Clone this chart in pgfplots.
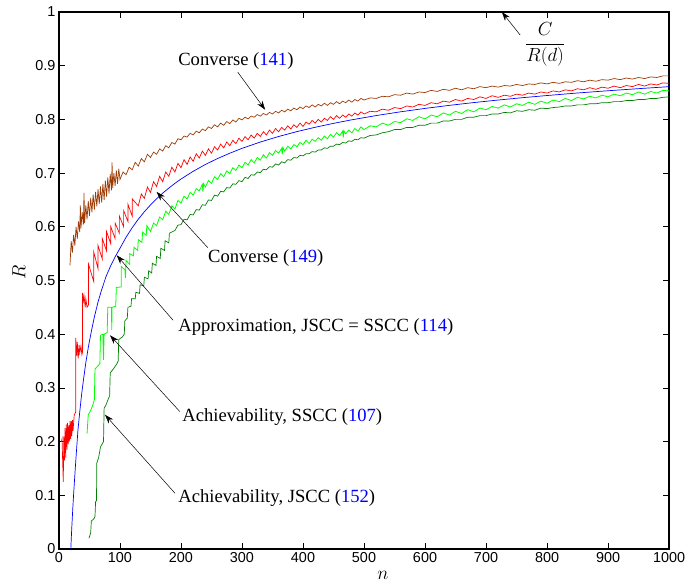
\RequirePackage{fix-cm}
\documentclass[border=0pt]{standalone}
\usepackage{fontspec}
\setmainfont{Liberation Serif}
\newfontfamily\sansf{Liberation Sans}
\usepackage{xcolor}
\usepackage{amsmath}
\usepackage{pgfplots}
\pgfplotsset{compat=1.18}
\usetikzlibrary{arrows.meta}
\definecolor{brownc}{RGB}{158,58,4}
\definecolor{dgreen}{RGB}{0,128,0}
\definecolor{lgreen}{RGB}{0,255,0}
\begin{document}
\begin{tikzpicture}
\begin{axis}[
 width=610pt, height=537pt, scale only axis,
 xmin=0, xmax=1000, ymin=0, ymax=1,
 xtick={0,100,200,300,400,500,600,700,800,900,1000},
 ytick={0,0.1,0.2,0.3,0.4,0.5,0.6,0.7,0.8,0.9,1},
 xtick pos=both, ytick pos=both,
 xticklabel pos=lower, yticklabel pos=left,
 tick align=inside, major tick length=6pt,
 axis line style={line width=1.3pt},
 tick style={line width=0.6pt, black},
 tick label style={font=\sansf\fontsize{14.4}{16}\selectfont},
 /pgf/number format/assume math mode=true,
 /pgf/number format/1000 sep={},
 xlabel={$n$}, ylabel={$R$},
 label style={font=\fontsize{19}{21}\selectfont},
 xlabel style={at={(axis description cs:0.531,-0.05)}, anchor=center},
 ylabel style={at={(axis description cs:-0.0656,0.516)}, anchor=center},
 clip mode=individual,
]
% C/R(d) line
\addplot[black, line width=0.6pt] coordinates {(0,1) (1000,1)};
% Converse (141) brown
\addplot[brownc, line width=0.7pt] coordinates {
(18,0.528)(20,0.573)(22,0.552)(24,0.585)(26,0.565)(28,0.6)(30,0.577)(32,0.61)(34,0.59)(35,0.64)(36,0.597)(38,0.627)(40,0.604)(41,0.663)(42,0.607)(44,0.64)(46,0.614)(48,0.648)(50,0.62)(52,0.654)(54,0.627)(56,0.66)(58,0.632)(60,0.665)(62,0.638)(64,0.67)(66,0.642)(68,0.675)(70,0.645)(72,0.68)(74,0.65)(76,0.686)(78,0.656)(80,0.692)(82,0.662)(84,0.698)(86,0.668)(87,0.72)(88,0.672)(90,0.70)(92,0.676)(94,0.705)(96,0.68)(98,0.708)
(100,0.688)(105,0.702)(110,0.697)(115,0.711)(120,0.706)(125,0.720)(130,0.713)(135,0.727)(140,0.721)(145,0.735)(150,0.729)(155,0.739)(160,0.735)(165,0.745)(170,0.741)(175,0.751)(180,0.747)(185,0.757)(190,0.754)(195,0.764)(200,0.762)(205,0.769)(210,0.767)(215,0.774)(220,0.771)(225,0.778)(230,0.775)(235,0.782)(240,0.779)(245,0.786)(250,0.783)(255,0.790)(260,0.786)(265,0.793)(270,0.789)(275,0.796)(280,0.792)(285,0.799)(290,0.795)(295,0.802)(300,0.799)(305,0.804)(310,0.801)(315,0.806)(320,0.804)(325,0.809)(330,0.806)(335,0.811)(340,0.808)(345,0.813)(350,0.810)(355,0.815)(360,0.812)(365,0.817)(370,0.814)(375,0.819)(380,0.816)(385,0.821)(390,0.818)(395,0.823)(400,0.820)(405,0.825)(410,0.822)(415,0.827)(420,0.823)(425,0.828)(430,0.825)(435,0.830)(440,0.826)(445,0.831)(450,0.828)(455,0.833)(460,0.829)(465,0.834)(470,0.831)(475,0.836)(480,0.832)(485,0.837)(490,0.834)(495,0.839)
(500,0.836)(510,0.840)(520,0.839)(530,0.843)(540,0.842)(550,0.846)(560,0.845)(570,0.849)(580,0.847)(590,0.851)(600,0.850)(610,0.854)(620,0.852)(630,0.856)(640,0.854)(650,0.858)(660,0.855)(670,0.859)(680,0.857)(690,0.861)(700,0.859)(710,0.862)(720,0.860)(730,0.863)(740,0.862)(750,0.865)(760,0.863)(770,0.866)(780,0.865)(790,0.868)(800,0.866)(810,0.869)(820,0.867)(830,0.870)(840,0.869)(850,0.872)(860,0.870)(870,0.873)(880,0.871)(890,0.874)(900,0.873)(910,0.876)(920,0.874)(930,0.877)(940,0.875)(950,0.878)(960,0.876)(970,0.879)(980,0.878)(990,0.881)(1000,0.881)
};
% Converse (149) red
\addplot[red, line width=0.7pt] coordinates {
(4,0.2)(5,0.205)(7,0.125)(8,0.21)(9,0.165)(10,0.225)(11,0.17)(12,0.232)(13,0.185)(14,0.235)(15,0.195)(16,0.23)(17,0.2)(18,0.238)(19,0.205)(20,0.238)(21,0.21)(22,0.24)(23,0.22)(25,0.25)(27.5,0.255)(27.5,0.393)(29,0.36)(30,0.385)(31.5,0.355)(33,0.38)(34,0.365)(36,0.378)(37.5,0.362)(38.5,0.366)(38.5,0.477)(40,0.462)(41,0.472)(43,0.45)(44,0.466)(46,0.45)(48.5,0.455)(48.5,0.53)
(57,0.498)(57,0.553)(64,0.522)(64,0.565)(71,0.540)(71,0.578)(78,0.555)(78,0.591)(85,0.568)(85,0.600)(92,0.578)(92,0.607)(99,0.588)(99,0.620)(106,0.600)(106,0.630)(113,0.610)(113,0.642)(120,0.620)(120,0.652)
(130,0.639)(135,0.661)(140,0.653)(145,0.674)(150,0.664)(155,0.684)(160,0.675)(165,0.694)(170,0.684)(175,0.702)(180,0.694)(185,0.711)(190,0.702)(195,0.718)(200,0.710)(205,0.725)(210,0.716)(215,0.730)(220,0.722)(225,0.736)(230,0.728)(235,0.741)(240,0.733)(245,0.745)(250,0.737)(255,0.749)(260,0.743)(265,0.754)(270,0.747)(275,0.758)(280,0.751)(285,0.761)(290,0.755)(295,0.765)(300,0.759)(305,0.768)(310,0.762)(315,0.771)(320,0.765)(325,0.774)(330,0.768)(335,0.777)(340,0.771)(345,0.780)(350,0.774)(355,0.783)(360,0.777)(365,0.785)(370,0.780)(375,0.788)(380,0.782)(385,0.790)(390,0.785)(395,0.793)(400,0.787)(405,0.795)(410,0.791)(415,0.798)(420,0.793)(425,0.800)(430,0.795)(435,0.802)(440,0.798)(445,0.805)(450,0.800)(455,0.807)(460,0.802)(465,0.808)(470,0.804)(475,0.810)(480,0.806)(485,0.812)(490,0.808)(495,0.814)
(500,0.810)(510,0.815)(520,0.814)(530,0.819)(540,0.817)(550,0.822)(560,0.820)(570,0.825)(580,0.823)(590,0.828)(600,0.826)(610,0.831)(620,0.829)(630,0.834)(640,0.832)(650,0.837)(660,0.834)(670,0.839)(680,0.837)(690,0.842)(700,0.839)(710,0.844)(720,0.841)(730,0.845)(740,0.843)(750,0.847)(760,0.845)(770,0.849)(780,0.847)(790,0.851)(800,0.849)(810,0.853)(820,0.851)(830,0.855)(840,0.853)(850,0.857)(860,0.855)(870,0.859)(880,0.856)(890,0.860)(900,0.858)(910,0.862)(920,0.859)(930,0.863)(940,0.861)(950,0.865)(960,0.862)(970,0.866)(980,0.864)(990,0.868)(1000,0.867)
};
% Approximation (114) blue
\addplot[blue, line width=0.7pt] coordinates {
(19.4,0)(20,0.016)(21,0.040)(22,0.062)(23,0.083)(24,0.102)(25,0.120)(27,0.155)(29,0.188)(31,0.22)(34,0.255)(37,0.287)(40,0.314)(44,0.347)(48,0.375)(53,0.405)(58,0.432)(64,0.46)(70,0.483)(77,0.507)(85,0.528)(92,0.544)(100,0.560)(110,0.5805)(120,0.5983)(130,0.6141)(140,0.6281)(150,0.6407)(160,0.6521)(170,0.6625)(180,0.6720)(190,0.6808)(200,0.6889)(220,0.7033)(240,0.7160)(260,0.7271)(280,0.7370)(300,0.7460)(330,0.7578)(360,0.7681)(390,0.7772)(420,0.7853)(450,0.7926)(480,0.7992)(520,0.8071)(560,0.8141)(600,0.8204)(640,0.8261)(680,0.8313)(720,0.8360)(760,0.8404)(800,0.8444)(850,0.8491)(900,0.8533)(950,0.8572)(1000,0.8609)
};
% Achievability SSCC (107) light green
\addplot[lgreen, line width=0.8pt] coordinates {
(46,0.215)(48,0.25)(52,0.258)(56,0.27)(58,0.278)(59,0.335)(63,0.34)(67,0.345)(68,0.398)(72,0.40)(73,0.352)(74,0.40)(79,0.403)(80,0.45)(86,0.45)(86.5,0.408)(87,0.45)(93,0.452)(94,0.487)(102,0.488)(102,0.526)(108,0.52)(109,0.505)(110,0.537)(116,0.53)(116,0.55)(122,0.546)(123,0.562)(129,0.556)(130,0.576)(136,0.571)(137,0.59)(143,0.584)(144,0.602)
(150,0.591)(155,0.607)(160,0.602)(165,0.618)(170,0.613)(175,0.629)(180,0.623)(185,0.639)(190,0.633)(195,0.649)(200,0.644)(205,0.657)(210,0.652)(215,0.664)(220,0.659)(225,0.671)(230,0.667)(235,0.679)(236,0.665)(237,0.680)(240,0.674)(245,0.686)(250,0.681)(255,0.693)(260,0.688)(265,0.699)(270,0.693)(275,0.704)(280,0.699)(285,0.710)(290,0.705)(295,0.715)(300,0.710)(305,0.720)(310,0.715)(315,0.725)(320,0.719)(325,0.729)(330,0.724)(335,0.734)(340,0.728)(345,0.738)(350,0.733)(355,0.742)(360,0.737)(365,0.746)(366,0.735)(367,0.748)(370,0.741)(375,0.750)(380,0.745)(385,0.753)(390,0.749)(395,0.757)(400,0.753)(405,0.761)(410,0.755)(415,0.763)(420,0.759)(425,0.766)(430,0.761)(435,0.769)(440,0.764)(445,0.772)(450,0.767)(455,0.775)(460,0.770)(465,0.778)(466,0.766)(467,0.779)(470,0.773)(475,0.780)(480,0.775)(485,0.783)(490,0.778)(495,0.786)
(500,0.781)(510,0.788)(520,0.786)(530,0.793)(540,0.789)(550,0.796)(560,0.794)(570,0.801)(580,0.798)(590,0.805)(600,0.801)(610,0.808)(620,0.805)(630,0.812)(640,0.808)(650,0.815)(660,0.811)(670,0.818)(680,0.814)(690,0.821)(700,0.818)(710,0.824)(720,0.821)(730,0.827)(740,0.823)(750,0.829)(760,0.826)(770,0.832)(780,0.828)(790,0.834)(800,0.830)(810,0.836)(820,0.833)(830,0.839)(840,0.835)(850,0.841)(860,0.838)(870,0.843)(880,0.840)(890,0.845)(900,0.842)(910,0.847)(920,0.844)(930,0.849)(940,0.846)(950,0.851)(960,0.847)(970,0.852)(980,0.849)(990,0.854)(1000,0.853)
};
% Achievability JSCC (152) dark green
\addplot[dgreen, line width=0.7pt] coordinates {
(49,0.02)(52,0.03)(53,0.052)(57,0.056)(59,0.06)(60,0.088)(61.5,0.09)(62,0.16)(65,0.17)(68,0.19)(72,0.198)(73,0.20)(74,0.262)(77,0.268)(81,0.28)(83,0.285)(84,0.328)(89,0.335)(95,0.345)(97,0.35)(98,0.39)(104,0.395)(107,0.40)(108,0.425)(112,0.43)(113,0.45)(118,0.452)(119,0.466)(125,0.466)(126,0.478)(132,0.476)(133,0.492)(139,0.49)(140,0.506)(146,0.503)(147,0.518)(152,0.514)(153,0.532)(159,0.528)(160,0.545)(166,0.541)(167,0.56)(173,0.556)(174,0.574)(180,0.57)(181,0.588)
(190,0.593)(195,0.603)(200,0.604)(205,0.614)(210,0.613)(215,0.623)(220,0.622)(225,0.632)(230,0.631)(235,0.641)(240,0.640)(245,0.650)(250,0.649)(255,0.659)(260,0.657)(265,0.666)(270,0.665)(275,0.673)(280,0.672)(285,0.680)(290,0.679)(295,0.686)(300,0.684)(305,0.692)(310,0.690)(315,0.697)(320,0.696)(325,0.702)(330,0.701)(335,0.707)(340,0.706)(345,0.712)(350,0.711)(355,0.717)(360,0.715)(365,0.721)(370,0.719)(375,0.725)(380,0.724)(385,0.729)(390,0.728)(395,0.733)(400,0.732)(405,0.736)(410,0.736)(415,0.740)(420,0.739)(425,0.743)(430,0.743)(435,0.747)(440,0.746)(445,0.750)(450,0.750)(455,0.754)(460,0.753)(465,0.757)(470,0.756)(475,0.760)(480,0.759)(485,0.763)(490,0.762)(495,0.766)
(500,0.765)(510,0.770)(520,0.771)(530,0.775)(540,0.777)(550,0.781)(560,0.781)(570,0.785)(580,0.785)(590,0.789)(600,0.789)(610,0.793)(620,0.793)(630,0.797)(640,0.797)(650,0.800)(660,0.800)(670,0.804)(680,0.804)(690,0.807)(700,0.807)(710,0.810)(720,0.810)(730,0.813)(740,0.812)(750,0.816)(760,0.815)(770,0.818)(780,0.817)(790,0.821)(800,0.820)(810,0.822)(820,0.823)(830,0.825)(840,0.825)(850,0.827)(860,0.827)(870,0.829)(880,0.829)(890,0.831)(900,0.831)(910,0.833)(920,0.833)(930,0.835)(940,0.835)(950,0.837)(960,0.837)(970,0.839)(980,0.839)(990,0.841)(1000,0.842)
};
% annotations
\tikzset{ann/.style={font=\fontsize{18.6}{20}\selectfont, inner sep=0pt},
         arr/.style={black, line width=0.5pt, -{Stealth[length=9pt,width=6pt]}}}
\node[ann] at (axis cs:290,0.908) {Converse (\textcolor{blue}{141})};
\draw[arr] (axis cs:293,0.888) -- (axis cs:338,0.818);
\node[ann] at (axis cs:339,0.542) {Converse (\textcolor{blue}{149})};
\draw[arr] (axis cs:244,0.561) -- (axis cs:160,0.665);
\node[ann] at (axis cs:421,0.413) {Approximation, JSCC = SSCC (\textcolor{blue}{114})};
\draw[arr] (axis cs:187,0.426) -- (axis cs:94.6,0.547);
\node[ann] at (axis cs:366,0.246) {Achievability, SSCC (\textcolor{blue}{107})};
\draw[arr] (axis cs:198,0.256) -- (axis cs:83.6,0.398);
\node[ann] at (axis cs:357,0.095) {Achievability, JSCC (\textcolor{blue}{152})};
\draw[arr] (axis cs:190,0.104) -- (axis cs:75.4,0.25);
\node[font=\fontsize{19}{21}\selectfont, inner sep=0pt] at (axis cs:797,0.939) {$\dfrac{C}{R(d)}$};
\draw[arr] (axis cs:756,0.957) -- (axis cs:726,1.0);
\coordinate (bbsw) at (rel axis cs:-0.0967,-0.0652);
\coordinate (bbne) at (rel axis cs:1.0508,1.0223);
\end{axis}
\pgfresetboundingbox
\path[use as bounding box] (bbsw) rectangle (bbne);
\end{tikzpicture}
\end{document}
